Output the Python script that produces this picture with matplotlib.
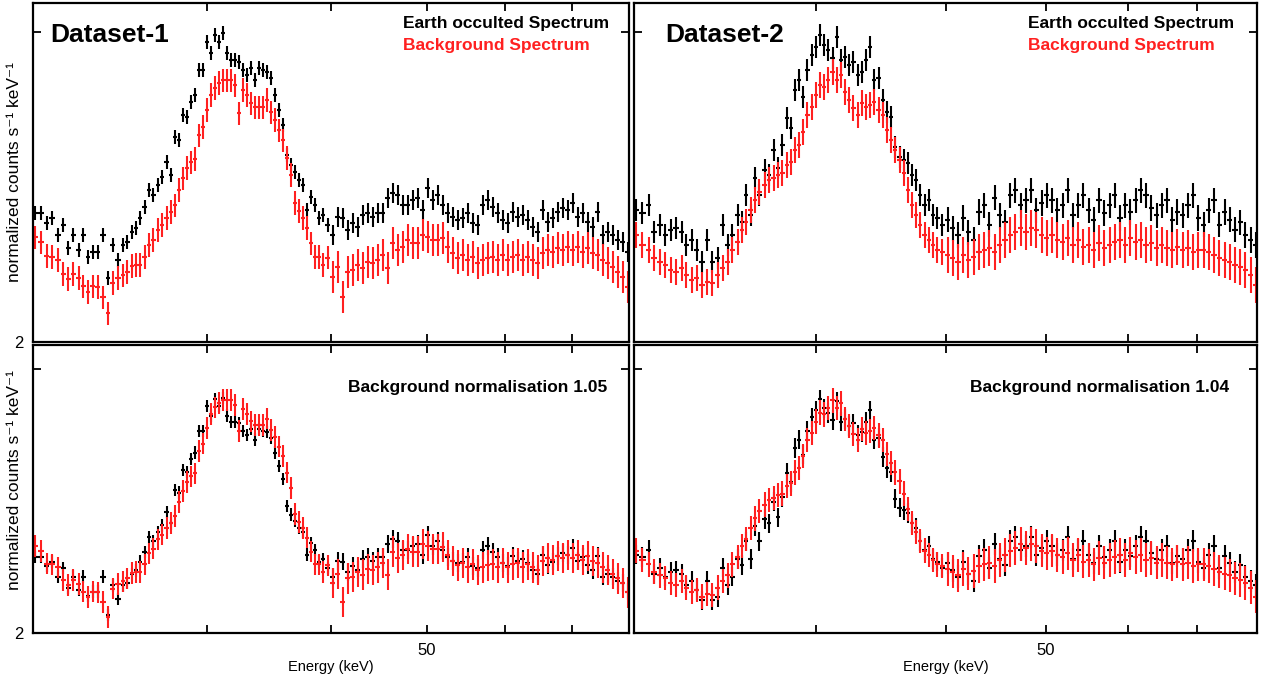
import numpy as np
import matplotlib.pyplot as plt

plt.rcParams["font.family"] = ["Liberation Sans", "DejaVu Sans"]

# energy bin centres (keV) - same grouping for both datasets
energy = [
    20.09, 20.38, 20.66, 20.90, 21.20, 21.45, 21.70, 21.95, 22.26, 22.47,
    22.73, 22.99, 23.26, 23.54, 23.81, 24.09, 24.37, 24.66, 24.89, 25.18,
    25.41, 25.65, 25.95, 26.19, 26.44, 26.75, 27.00, 27.31, 27.57, 27.83,
    28.09, 28.35, 28.61, 28.88, 29.15, 29.42, 29.70, 29.98, 30.26, 30.54,
    30.82, 31.11, 31.40, 31.70, 31.99, 32.29, 32.59, 32.90, 33.21, 33.52,
    33.83, 34.15, 34.46, 34.79, 35.11, 35.44, 35.77, 36.11, 36.44, 36.78,
    37.13, 37.47, 37.82, 38.18, 38.53, 38.89, 39.26, 39.72, 40.18,
    40.65, 41.13, 41.61, 42.09, 42.59, 43.09, 43.59, 44.10, 44.61, 45.14,
    45.66, 46.20, 46.74, 47.29, 47.84, 48.40, 48.96, 49.54, 50.12, 50.70,
    51.30, 51.90, 52.50, 53.12, 53.74, 54.37, 55.00, 55.64, 56.30, 56.95,
    57.62, 58.29, 58.98, 59.67, 60.36, 61.07, 61.78, 62.51, 63.24, 63.98,
    64.73, 65.48, 66.25, 67.02, 67.81, 68.60, 69.40, 70.21, 71.04, 71.87,
    72.71, 73.56, 74.42, 75.29, 76.17, 77.06, 77.96, 78.87, 79.80,
]

# Dataset-1
ds1_occulted = [
    2.411, 2.411, 2.379, 2.395, 2.341, 2.373, 2.299, 2.341, 2.293, 2.341,
    2.271, 2.287, 2.287, 2.341, 2.204, 2.309, 2.261, 2.309, 2.318, 2.350,
    2.363, 2.395, 2.430, 2.484, 2.468, 2.500, 2.525, 2.573, 2.532, 2.653,
    2.643, 2.723, 2.717, 2.764, 2.787, 2.866, 2.866, 2.955, 2.920, 2.978,
    2.955, 2.984, 2.920, 2.898, 2.898, 2.892, 2.866, 2.850, 2.873, 2.834,
    2.873, 2.866, 2.860, 2.841, 2.787, 2.739, 2.691, 2.596, 2.564, 2.541,
    2.516, 2.500, 2.420, 2.462, 2.436, 2.395, 2.404, 2.373, 2.341,
    2.398, 2.395, 2.357, 2.379, 2.366, 2.404, 2.411, 2.398, 2.411, 2.411,
    2.459, 2.475, 2.468, 2.436, 2.436, 2.452, 2.459, 2.420, 2.490, 2.452,
    2.468, 2.436, 2.411, 2.398, 2.389, 2.395, 2.411, 2.379, 2.373, 2.436,
    2.452, 2.430, 2.411, 2.389, 2.379, 2.414, 2.398, 2.404, 2.389, 2.366,
    2.350, 2.420, 2.382, 2.395, 2.414, 2.427, 2.420, 2.443, 2.398, 2.411,
    2.382, 2.366, 2.414, 2.341, 2.350, 2.341, 2.325, 2.318, 2.287,
]
ds1_background = [
    2.334, 2.318, 2.274, 2.271, 2.261, 2.217, 2.201, 2.217, 2.204, 2.178,
    2.159, 2.178, 2.175, 2.143, 2.092, 2.188, 2.204, 2.213, 2.223, 2.242,
    2.245, 2.245, 2.271, 2.309, 2.325, 2.357, 2.373, 2.395, 2.414, 2.436,
    2.484, 2.522, 2.554, 2.573, 2.583, 2.659, 2.685, 2.739, 2.787, 2.809,
    2.825, 2.834, 2.834, 2.834, 2.818, 2.729, 2.803, 2.787, 2.761, 2.748,
    2.748, 2.748, 2.771, 2.732, 2.707, 2.675, 2.643, 2.586, 2.532, 2.443,
    2.417, 2.395, 2.363, 2.315, 2.271, 2.271, 2.245, 2.268, 2.207,
    2.239, 2.143, 2.223, 2.229, 2.245, 2.236, 2.255, 2.252, 2.261, 2.277,
    2.236, 2.315, 2.293, 2.303, 2.325, 2.315, 2.315, 2.341, 2.334, 2.325,
    2.325, 2.331, 2.303, 2.283, 2.268, 2.277, 2.261, 2.271, 2.252, 2.261,
    2.268, 2.271, 2.261, 2.277, 2.261, 2.271, 2.277, 2.261, 2.271, 2.261,
    2.252, 2.283, 2.293, 2.287, 2.299, 2.293, 2.303, 2.293, 2.303, 2.287,
    2.299, 2.283, 2.277, 2.261, 2.252, 2.239, 2.223, 2.207, 2.175,
]

# Dataset-2
ds2_occulted = [
    2.420, 2.411, 2.436, 2.350, 2.373, 2.341, 2.357, 2.363, 2.350, 2.309,
    2.325, 2.293, 2.255, 2.325, 2.255, 2.268, 2.373, 2.309, 2.341, 2.404,
    2.382, 2.468, 2.404, 2.522, 2.468, 2.548, 2.532, 2.611, 2.554, 2.627,
    2.713, 2.682, 2.803, 2.834, 2.780, 2.866, 2.914, 2.939, 2.978, 2.946,
    2.930, 2.904, 2.971, 2.898, 2.908, 2.882, 2.892, 2.850, 2.860, 2.898,
    2.939, 2.834, 2.841, 2.771, 2.732, 2.717, 2.621, 2.589, 2.580, 2.570,
    2.532, 2.516, 2.468, 2.436, 2.452, 2.404, 2.395, 2.373, 2.389,
    2.363, 2.341, 2.395, 2.350, 2.325, 2.414, 2.436, 2.373, 2.459, 2.404,
    2.382, 2.468, 2.484, 2.436, 2.452, 2.484, 2.420, 2.443, 2.468, 2.452,
    2.420, 2.436, 2.484, 2.404, 2.436, 2.468, 2.420, 2.389, 2.452, 2.411,
    2.436, 2.468, 2.395, 2.436, 2.414, 2.452, 2.484, 2.468, 2.427, 2.404,
    2.436, 2.452, 2.389, 2.414, 2.404, 2.436, 2.468, 2.395, 2.373, 2.420,
    2.452, 2.373, 2.414, 2.389, 2.357, 2.382, 2.341, 2.325, 2.309,
]
ds2_background = [
    2.341, 2.309, 2.293, 2.268, 2.255, 2.245, 2.229, 2.223, 2.236, 2.213,
    2.197, 2.204, 2.182, 2.191, 2.188, 2.213, 2.236, 2.255, 2.293, 2.318,
    2.357, 2.382, 2.420, 2.452, 2.478, 2.500, 2.516, 2.522, 2.532, 2.538,
    2.564, 2.573, 2.611, 2.627, 2.669, 2.723, 2.748, 2.787, 2.818, 2.812,
    2.834, 2.860, 2.834, 2.850, 2.796, 2.771, 2.745, 2.723, 2.761, 2.748,
    2.755, 2.764, 2.739, 2.723, 2.675, 2.643, 2.611, 2.580, 2.538, 2.484,
    2.436, 2.404, 2.373, 2.341, 2.325, 2.309, 2.293, 2.287, 2.277,
    2.268, 2.255, 2.277, 2.261, 2.271, 2.287, 2.293, 2.299, 2.287, 2.309,
    2.325, 2.341, 2.350, 2.363, 2.350, 2.363, 2.357, 2.341, 2.331, 2.341,
    2.325, 2.318, 2.331, 2.309, 2.325, 2.303, 2.309, 2.293, 2.315, 2.299,
    2.309, 2.318, 2.325, 2.309, 2.331, 2.318, 2.325, 2.309, 2.315, 2.299,
    2.309, 2.299, 2.293, 2.303, 2.293, 2.299, 2.287, 2.293, 2.293, 2.287,
    2.277, 2.268, 2.261, 2.255, 2.245, 2.239, 2.229, 2.213, 2.182,
]

# 1-sigma errors: (below 40 keV, above 40 keV)
ds1_occ_err = (0.022, 0.032)
ds1_bkg_err = (0.037, 0.052)
ds2_occ_err = (0.035, 0.040)
ds2_bkg_err = (0.042, 0.058)

bkg_norm = [1.05, 1.04]

BLACK = "#000000"
RED = "#ff2020"

e = np.array(energy)
mid = np.sqrt(e[:-1] * e[1:])
edges = np.concatenate([[e[0] ** 2 / mid[0]], mid, [e[-1] ** 2 / mid[-1]]])
xerr = [e - edges[:-1], edges[1:] - e]


def errs(pair):
    return np.where(e >= 40, pair[1], pair[0])


fig = plt.figure(figsize=(12.65, 6.88), dpi=100)
W, H = 1265, 688


def panel(x0, y0, x1, y1):
    return fig.add_axes([x0 / W, 1 - y1 / H, (x1 - x0) / W, (y1 - y0) / H])


ax_tl = panel(33, 3, 629, 342)
ax_tr = panel(634, 3, 1257, 342)
ax_bl = panel(33, 345, 629, 633)
ax_br = panel(634, 345, 1257, 633)

top_ylim = (2.0, 3.08)
bot_ylim = (2.138, 3.174)

setups = [
    (ax_tl, ds1_occulted, ds1_background, ds1_occ_err, ds1_bkg_err, 1.0, top_ylim, True, False),
    (ax_tr, ds2_occulted, ds2_background, ds2_occ_err, ds2_bkg_err, 1.0, top_ylim, False, False),
    (ax_bl, ds1_occulted, ds1_background, ds1_occ_err, ds1_bkg_err, bkg_norm[0], bot_ylim, True, True),
    (ax_br, ds2_occulted, ds2_background, ds2_occ_err, ds2_bkg_err, bkg_norm[1], bot_ylim, False, True),
]

for ax, occ, bkg, oerr, berr, norm, ylim, left, bottom in setups:
    ax.errorbar(e, occ, xerr=xerr, yerr=errs(oerr), fmt="none",
                ecolor=BLACK, elinewidth=1.5, capsize=0)
    ax.errorbar(e, np.array(bkg) * norm, xerr=xerr, yerr=errs(berr) * norm,
                fmt="none", ecolor=RED, elinewidth=1.5, capsize=0)

    ax.set_xscale("log")
    ax.set_xlim(20, 80)
    ax.set_ylim(*ylim)
    ax.xaxis.set_minor_locator(plt.NullLocator())
    ax.set_xticks([30, 40, 50, 60, 70],
                  labels=["", "", "50", "", ""] if bottom else [""] * 5)
    ytop = ylim[0] + 0.915 * (ylim[1] - ylim[0])
    ax.set_yticks([ylim[0], ytop], labels=["2", ""] if left else ["", ""])
    ax.yaxis.set_minor_locator(plt.NullLocator())
    ax.tick_params(direction="in", length=6, width=1.3, top=True, right=True,
                   labelsize=12, pad=7)
    for s in ax.spines.values():
        s.set_linewidth(1.6)
    if left:
        ax.set_ylabel("normalized counts s⁻¹ keV⁻¹", fontsize=12.5)
        ax.yaxis.set_label_coords(-0.019, 0.53 if bottom else 0.5)
    if bottom:
        ax.set_xlabel("Energy (keV)", fontsize=10.5, labelpad=2)

# annotations
ax_tl.text(0.0285, 0.906, "Dataset-1", transform=ax_tl.transAxes,
           fontsize=19, fontweight="bold", va="center")
ax_tr.text(0.050, 0.906, "Dataset-2", transform=ax_tr.transAxes,
           fontsize=19, fontweight="bold", va="center")
for ax, x in [(ax_tl, 0.621), (ax_tr, 0.632)]:
    ax.text(x, 0.941, "Earth occulted Spectrum", transform=ax.transAxes,
            fontsize=12.5, fontweight="bold", va="center", color=BLACK)
    ax.text(x, 0.876, "Background Spectrum", transform=ax.transAxes,
            fontsize=12.5, fontweight="bold", va="center", color=RED)
ax_bl.text(0.5285, 0.854, "Background normalisation %.2f" % bkg_norm[0],
           transform=ax_bl.transAxes, fontsize=12.5, fontweight="bold", va="center")
ax_br.text(0.539, 0.854, "Background normalisation %.2f" % bkg_norm[1],
           transform=ax_br.transAxes, fontsize=12.5, fontweight="bold", va="center")

fig.savefig("out.png", dpi=100)
